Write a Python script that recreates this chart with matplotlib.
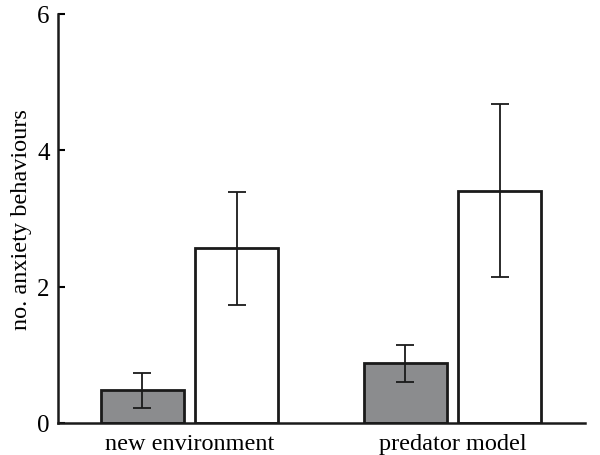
import numpy as np
import matplotlib.pyplot as plt

# Data
groups = ["new environment", "predator model"]
grey_means = [0.48, 0.875]
grey_errs = [0.255, 0.27]
white_means = [2.56, 3.41]
white_errs = [0.835, 1.265]

plt.rcParams['font.family'] = ['Liberation Serif', 'DejaVu Serif']

fig = plt.figure(figsize=(6, 4.56), dpi=100)
ax = fig.add_axes([0.097, 0.0702, 0.878, 0.897])

x = np.arange(len(groups))
w = 0.316
off = 0.18

ax.bar(x - off, grey_means, w, color='#8b8c8e', edgecolor='#1a1a1a', linewidth=2, zorder=2)
ax.bar(x + off, white_means, w, color='white', edgecolor='#1a1a1a', linewidth=2, zorder=2)
ax.errorbar(x - off, grey_means, yerr=grey_errs, fmt='none', ecolor='#1a1a1a',
            elinewidth=1.3, capsize=6.5, capthick=1.3, zorder=3)
ax.errorbar(x + off, white_means, yerr=white_errs, fmt='none', ecolor='#1a1a1a',
            elinewidth=1.3, capsize=6.5, capthick=1.3, zorder=3)

ax.set_xlim(-0.5, 1.505)
ax.set_ylim(0, 6)
ax.set_yticks([0, 2, 4, 6])
ax.set_xticks(x)
ax.set_xticklabels(groups)
ax.tick_params(axis='y', direction='in', length=5, width=1.5, labelsize=18, pad=6)
ax.tick_params(axis='x', length=0, labelsize=17.5, pad=7)
ax.set_ylabel("no. anxiety behaviours", fontsize=17.5, labelpad=4)

for s in ['top', 'right']:
    ax.spines[s].set_visible(False)
for s in ['left', 'bottom']:
    ax.spines[s].set_linewidth(1.8)
    ax.spines[s].set_color('#1a1a1a')

fig.savefig("out.png", dpi=100)
